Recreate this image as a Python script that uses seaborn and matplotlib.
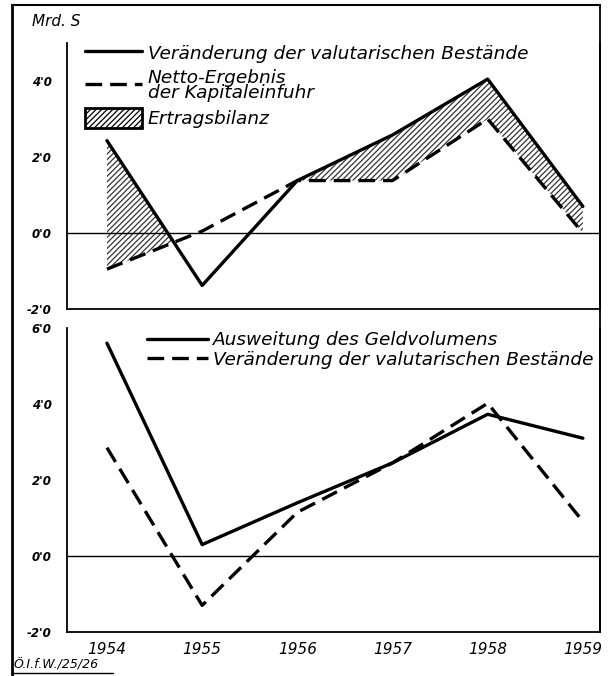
import numpy as np
import matplotlib.pyplot as plt
import seaborn as sns
from matplotlib.lines import Line2D
from matplotlib.patches import Patch

# --- data (Mrd. S) ---
years = [1954, 1955, 1956, 1957, 1958, 1959]
valuta_top = [2.43, -1.38, 1.38, 2.58, 4.05, 0.70]
kapitaleinfuhr = [-0.95, 0.05, 1.38, 1.38, 3.00, 0.0]
geldvolumen = [5.60, 0.30, 1.40, 2.45, 3.73, 3.10]
valuta_bottom = [2.85, -1.30, 1.15, 2.45, 4.02, 0.91]

major_top = [-2, 0, 2, 4]
major_bottom = [-2, 0, 2, 4, 6]
tick_labels = {-2: "-2'0", 0: "0'0", 2: "2'0", 4: "4'0", 6: "6'0"}

sns.set_style("white")
plt.rcParams['font.family'] = ['DejaVu Sans']
plt.rcParams['hatch.linewidth'] = 0.9
for key in ['text.color', 'axes.labelcolor', 'xtick.color', 'ytick.color']:
    plt.rcParams[key] = 'black'

W, H = 612, 676
fig = plt.figure(figsize=(W / 100, H / 100), dpi=100)
ax1 = fig.add_axes([67 / W, 1 - 309 / H, 533 / W, 266 / H])
ax2 = fig.add_axes([67 / W, 1 - 632 / H, 533 / W, 304 / H])

dash = (0, (5, 2.4))
lw = 2.4
legend_font = {'style': 'italic', 'size': 13.3}

# --- top panel ---
v = np.array(valuta_top)
k = np.array(kapitaleinfuhr)
ax1.fill_between(years, k, v, where=v >= k, interpolate=True,
                 facecolor='white', edgecolor='#333333', hatch='//////', linewidth=0)
ax1.axhline(0, color='black', lw=1.0)
sns.lineplot(x=years, y=valuta_top, ax=ax1, color='black', lw=lw)
sns.lineplot(x=years, y=kapitaleinfuhr, ax=ax1, color='black', lw=lw, linestyle=dash)
ax1.set_ylim(-2, 5)

handles1 = [
    Line2D([], [], color='black', lw=lw),
    Line2D([], [], color='black', lw=lw, linestyle=dash),
    Patch(facecolor='white', edgecolor='black', hatch='//////', lw=2),
]
labels1 = ["Veränderung der valutarischen Bestände",
           "Netto-Ergebnis\nder Kapitaleinfuhr",
           "Ertragsbilanz"]
leg1 = ax1.legend(handles1, labels1, loc='upper left', bbox_to_anchor=(0.034, 1.0),
                  frameon=False, borderaxespad=0, borderpad=0, handlelength=3.1,
                  handletextpad=0.3, labelspacing=0.3, handleheight=1.3,
                  prop=legend_font)
leg1.get_texts()[1].set_linespacing(0.8)

# --- bottom panel ---
ax2.axhline(0, color='black', lw=1.0)
sns.lineplot(x=years, y=geldvolumen, ax=ax2, color='black', lw=lw)
sns.lineplot(x=years, y=valuta_bottom, ax=ax2, color='black', lw=lw, linestyle=dash)
ax2.set_ylim(-2, 6)

handles2 = [
    Line2D([], [], color='black', lw=lw),
    Line2D([], [], color='black', lw=lw, linestyle=dash),
]
labels2 = ["Ausweitung des Geldvolumens",
           "Veränderung der valutarischen Bestände"]
ax2.legend(handles2, labels2, loc='upper left', bbox_to_anchor=(0.15, 0.99),
           frameon=False, borderaxespad=0, borderpad=0, handlelength=3.3,
           handletextpad=0.3, labelspacing=0.1, prop=legend_font)

# --- axes styling ---
for ax, major, top in [(ax1, major_top, 5), (ax2, major_bottom, 6)]:
    ax.set_xlim(1953.58, 1959.18)
    ax.set_xticks(years)
    ax.set_yticks(major)
    ax.set_yticks([m + 1 for m in major if m + 1 <= top], minor=True)
    ax.set_yticklabels([tick_labels[m] for m in major], fontsize=8.5,
                       fontweight='bold', style='italic')
    ax.tick_params(axis='y', which='both', direction='in', length=5, width=1.2, pad=11)
    ax.tick_params(axis='x', direction='in', length=7, width=1.2)
    ax.set_xlabel('')
    ax.set_ylabel('')
    for side in ['left', 'bottom', 'right']:
        ax.spines[side].set_visible(True)
        ax.spines[side].set_linewidth(1.3)
        ax.spines[side].set_color('black')
    ax.spines['top'].set_visible(False)

ax1.set_xticklabels([])
ax2.set_xticklabels([str(y) for y in years], fontsize=11, style='italic')
ax2.tick_params(axis='x', pad=7)

# --- outer frame and captions ---
fig.add_artist(Line2D([12 / W, 12 / W], [1 - 5 / H, 0], color='black', lw=2, transform=fig.transFigure))
fig.add_artist(Line2D([12 / W, 600 / W], [1 - 5 / H, 1 - 5 / H], color='black', lw=1.5, transform=fig.transFigure))
fig.add_artist(Line2D([600 / W, 600 / W], [1 - 5 / H, 1 - 632 / H], color='black', lw=1.3, transform=fig.transFigure))

fig.text(32 / W, 1 - 22 / H, "Mrd. S", fontsize=11, style='italic', va='center', ha='left')
fig.text(14 / W, 1 - 665 / H, "Ö.I.f.W./25/26", fontsize=9, style='italic', va='center', ha='left')
fig.add_artist(Line2D([12 / W, 113 / W], [1 - 673 / H, 1 - 673 / H], color='black', lw=1, transform=fig.transFigure))

fig.savefig('out.png', dpi=100)
